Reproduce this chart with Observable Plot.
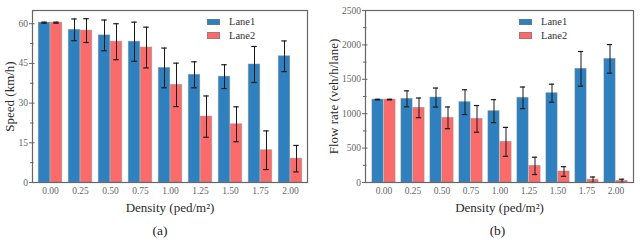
<!DOCTYPE html>
<html>
<head>
<meta charset="utf-8">
<script src="https://cdn.jsdelivr.net/npm/d3@7"></script>
<script src="https://cdn.jsdelivr.net/npm/@observablehq/plot@0.6"></script>
<style>
  html, body { margin: 0; padding: 0; background: #fff; }
  body { width: 643px; height: 243px; overflow: hidden; font-family: "Liberation Serif", serif; }
  #wrap { display: flex; }
  .panel { position: relative; }
  .cap { font-family: "Liberation Serif", serif; font-size: 13.5px; color: #222; text-align: center; line-height: 16px; margin-top: 8px; }
  .legend { position: absolute; font-family: "Liberation Serif", serif; font-size: 10.5px; color: #333; }
  .legend .item { display: flex; align-items: center; height: 13.5px; }
  .legend .sw { width: 13px; height: 6.5px; margin-right: 9px; box-sizing: border-box; border: 0.8px solid rgba(120,120,120,0.6); }
</style>
</head>
<body>
<div id="wrap"></div>
<script>
const densities = ["0.00","0.25","0.50","0.75","1.00","1.25","1.50","1.75","2.00"];
const lanes = ["Lane1","Lane2"];
const laneColors = ["#2f80bf","#fc6b6c"];

const speedLane1    = [60.4, 57.7, 55.6, 53.2, 43.3, 40.7, 40.0, 44.6, 47.7];
const speedLane1Err = [0.2, 4.1, 5.8, 7.4, 7.5, 4.9, 4.5, 6.8, 5.8];
const speedLane2    = [60.4, 57.4, 53.2, 51.0, 36.9, 24.9, 22.0, 12.2, 9.0];
const speedLane2Err = [0.2, 4.5, 6.8, 7.7, 8.2, 7.8, 6.6, 7.3, 5.0];

const flowLane1    = [1205, 1216, 1235, 1168, 1037, 1231, 1298, 1652, 1797];
const flowLane1Err = [5, 116, 138, 180, 167, 157, 131, 252, 208];
const flowLane2    = [1205, 1085, 940, 925, 591, 242, 160, 40, 24];
const flowLane2Err = [5, 143, 158, 194, 210, 126, 70, 40, 24];

const speedTicks = [0, 15, 30, 45, 60];
const speedMinor = [7.5, 22.5, 37.5, 52.5];
const flowTicks = [0, 500, 1000, 1500, 2000, 2500];
const flowMinor = [250, 750, 1250, 1750, 2250];

const FONT = '"Liberation Serif", serif';

function rows(v1, e1, v2, e2) {
  const out = [];
  densities.forEach((d, i) => {
    out.push({density: d, lane: lanes[0], v: v1[i], e: e1[i]});
    out.push({density: d, lane: lanes[1], v: v2[i], e: e2[i]});
  });
  return out;
}

function panel(cfg) {
  const {width, height, ml, mr, mt, mb, data, yDomain, ticks, minor, ylabel, ylabelDx, caption, capShift, legendLeft} = cfg;
  const fw = width - ml - mr;
  const bw = fw / densities.length;
  const barW = 12;
  const capW = 6;
  const half = bw / 2;
  const marks = [];
  lanes.forEach((ln, k) => {
    const sub = data.filter(d => d.lane === ln);
    const off = k === 0 ? -barW / 2 : barW / 2;
    marks.push(Plot.barY(sub, {
      x: "density", y: "v", fill: laneColors[k],
      stroke: "#8a8a8a", strokeOpacity: 0.55, strokeWidth: 0.8,
      insetLeft: k === 0 ? half - barW : half,
      insetRight: k === 0 ? half : half - barW
    }));
    marks.push(Plot.ruleX(sub, {
      x: "density", y1: d => Math.max(0, d.v - d.e), y2: d => d.v + d.e,
      dx: off, stroke: "#1a1a1a", strokeWidth: 1
    }));
    marks.push(Plot.tickY(sub, {
      x: "density", y: d => d.v + d.e, dx: off,
      insetLeft: half - capW / 2, insetRight: half - capW / 2,
      stroke: "#1a1a1a", strokeWidth: 1.2
    }));
    marks.push(Plot.tickY(sub, {
      x: "density", y: d => Math.max(0, d.v - d.e), dx: off,
      insetLeft: half - capW / 2, insetRight: half - capW / 2,
      stroke: "#1a1a1a", strokeWidth: 1.2
    }));
  });
  marks.push(Plot.ruleY(ticks, {y: d => d, insetLeft: -3, insetRight: fw - 2.5, stroke: "#666", strokeWidth: 1}));
  marks.push(Plot.ruleY(minor, {y: d => d, insetLeft: -2, insetRight: fw - 1.5, stroke: "#666", strokeWidth: 1}));
  marks.push(Plot.frame({stroke: "#666", strokeWidth: 1.2}));
  marks.push(Plot.axisY({ticks, tickSize: 0, tickPadding: 4.5, label: null, fill: "#666", fontFamily: FONT, tickFormat: d => String(d)}));
  marks.push(Plot.axisX({tickSize: 0, tickPadding: 5, label: null, fill: "#666", fontFamily: FONT}));
  marks.push(Plot.text(["Density (ped/m\u00B2)"], {text: d => d, frameAnchor: "bottom", dy: 25, textAnchor: "middle", fontSize: 13, fontFamily: FONT, fill: "#2a2a2a", lineAnchor: "middle"}));
  marks.push(Plot.text([ylabel], {text: d => d, frameAnchor: "left", dx: ylabelDx, rotate: -90, textAnchor: "middle", fontSize: 13, fontFamily: FONT, fill: "#2a2a2a", lineAnchor: "middle"}));

  const chart = Plot.plot({
    width, height,
    marginLeft: ml, marginRight: mr, marginTop: mt, marginBottom: mb,
    style: {fontFamily: FONT, fontSize: "9.5px", background: "transparent", color: "#666"},
    x: {domain: densities, padding: 0},
    y: {domain: yDomain},
    marks
  });

  const div = document.createElement("div");
  div.className = "panel";
  div.style.width = width + "px";
  div.appendChild(chart);
  const cap = document.createElement("div");
  cap.className = "cap";
  cap.style.paddingLeft = capShift + "px";
  cap.textContent = caption;
  div.appendChild(cap);

  const lg = document.createElement("div");
  lg.className = "legend";
  lg.style.left = legendLeft + "px";
  lg.style.top = "15px";
  lanes.forEach((ln, k) => {
    const it = document.createElement("div");
    it.className = "item";
    const sw = document.createElement("span");
    sw.className = "sw";
    sw.style.background = laneColors[k];
    const t = document.createElement("span");
    t.textContent = ln;
    it.appendChild(sw); it.appendChild(t);
    lg.appendChild(it);
  });
  div.appendChild(lg);
  return div;
}

const wrap = document.getElementById("wrap");
wrap.appendChild(panel({
  width: 320, height: 215, ml: 32, mr: 13, mt: 10, mb: 33,
  data: rows(speedLane1, speedLane1Err, speedLane2, speedLane2Err),
  yDomain: [0, 65], ticks: speedTicks, minor: speedMinor,
  ylabel: "Speed (km/h)", ylabelDx: -23, caption: "(a)", capShift: -12, legendLeft: 207
}));
wrap.appendChild(panel({
  width: 323, height: 215, ml: 45, mr: 10, mt: 10, mb: 33,
  data: rows(flowLane1, flowLane1Err, flowLane2, flowLane2Err),
  yDomain: [0, 2500], ticks: flowTicks, minor: flowMinor,
  ylabel: "Flow rate (veh/h/lane)", ylabelDx: -32, caption: "(b)", capShift: 32, legendLeft: 199
}));
</script>
</body>
</html>
